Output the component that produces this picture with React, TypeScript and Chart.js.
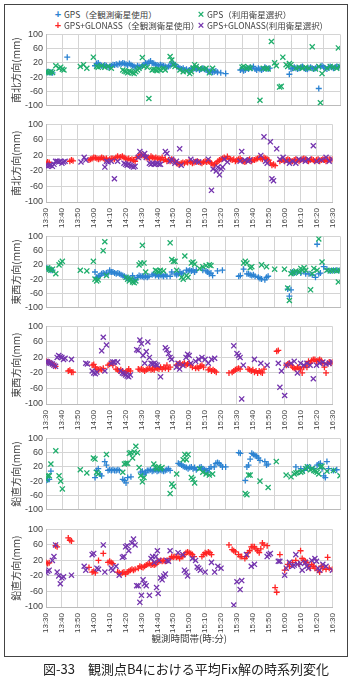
import React, { useEffect, useRef } from 'react';
import { Chart, registerables } from 'chart.js';
Chart.register(...registerables);

type Pt = [number, number];

// minutes after 13:30 → tick label
const timeLabels = ['13:30','13:40','13:50','14:00','14:10','14:20','14:30','14:40','14:50','15:00','15:10','15:20','15:30','15:40','15:50','16:00','16:10','16:20','16:30'];

const legendLabels = ['GPS（全観測衛星使用）', 'GPS（利用衛星選択）', 'GPS+GLONASS（全観測衛星使用）', 'GPS+GLONASS(利用衛星選択)'];
const axisTitles = ['南北方向(mm)', '東西方向(mm)', '鉛直方向(mm)'];
const xAxisTitle = '観測時間帯(時:分)';
const caption = '図-33　観測点B4における平均Fix解の時系列変化';

// ---- North-South ----
const gpsAllNS: Pt[] = [[0,-6],[1,-5],[2,-7],[3,-6],[4,-8],[13,36],
[30,12],[31,18],[32,20],[33,15],[34,12],[35,10],[36,14],[37,12],[38,8],[39,10],[40,12],
[41,15],[42,14],[43,16],[44,15],[45,18],[46,17],[47,20],[48,18],[49,16],[50,14],
[51,18],[52,15],[53,12],[54,10],[55,8],[56,12],[57,10],[58,8],[59,12],[60,15],[61,20],[62,18],
[63,22],[64,25],[65,20],[66,18],[67,15],[68,14],[69,12],[70,15],[71,13],[72,12],[73,10],[74,8],[75,10],[76,12],
[77,20],[78,18],[79,15],[80,10],[81,8],[82,5],[83,3],[84,5],[85,0],[86,2],[87,-2],[88,0],
[89,5],[90,3],[91,5],[92,2],[93,4],[94,0],[95,3],[96,5],[97,2],[98,0],[99,-2],[100,-5],[101,-3],[102,-6],[103,-5],[104,-3],[105,-6],[107,-8],[110,-10],
[119,0],[120,2],[121,-2],[122,0],[123,5],[124,3],[125,8],[126,5],[127,10],[128,3],[129,0],[130,5],[131,2],[132,0],[133,3],[134,8],[135,5],[136,3],[137,5],
[149,-12],[150,3],[151,5],[152,8],[153,5],[154,3],[155,5],[156,8],[157,10],[158,5],[159,3],[160,2],[161,5],[162,8],[163,5],[164,3],[165,5],[166,8],[167,-52],[168,10],[169,12],[170,8],[171,5],[172,3],[173,8],[174,10],[175,8],[176,5],[177,8],[178,10],[179,8],[180,10]];

const gpsSelNS: Pt[] = [[0,-5],[1,-6],[2,-8],[3,-4],[4,-7],[6,12],[8,5],[9,8],[10,2],[11,0],
[21,10],[23,15],[25,5],[29,36],[31,10],[32,8],[34,12],[36,8],[38,10],[40,5],
[47,0],[48,-3],[49,-5],[50,-8],[51,-3],[52,-5],[53,-8],[54,-10],[55,-5],[56,0],[57,5],
[59,35],[60,10],[62,8],[63,-80],[65,0],[66,2],[67,0],[68,-2],[69,2],[70,0],[72,5],[73,0],
[76,38],[77,28],[78,15],[79,10],[82,0],[84,-5],[86,-3],[88,-10],[89,-5],[90,5],[91,15],[92,10],
[94,5],[96,3],[98,5],[100,-8],[102,5],
[120,8],[121,10],[123,5],[124,8],[125,5],[131,-85],[133,5],[135,5],[136,3],[138,80],[140,20],[141,12],
[143,-48],[144,-46],[145,36],[147,15],[148,10],[149,18],[150,15],[153,5],[155,8],[157,5],[159,8],[161,5],[163,65],[165,3],[167,10],[168,-92],[169,-10],[172,5],[174,10],[176,8],[178,5],[179,62],[180,10]];

const glAllNS: Pt[] = [[0,0],[1,3],[2,2],[15,5],[16,8],[17,6],
[27,8],[28,10],[29,12],[30,15],[31,14],[32,12],[33,10],[34,12],[35,15],[36,13],[37,10],[38,12],[39,8],[40,10],
[41,12],[42,12],[43,10],[44,15],[45,18],[46,15],[47,16],[48,18],[49,15],[50,12],[51,10],[52,12],[53,8],[54,10],[55,8],[56,5],
[57,15],[58,18],[59,20],[60,22],[61,20],[62,18],[63,15],[64,15],[65,12],[66,18],[67,15],[68,12],
[69,15],[70,12],[71,12],[72,10],[73,15],[74,8],[75,10],[76,5],[77,8],[78,5],[79,10],[80,8],[81,5],
[82,0],[83,-2],[84,-3],[85,0],[86,2],[87,0],[88,3],[89,2],[90,5],[91,3],[92,0],[93,2],[94,4],[95,5],[96,3],[97,2],[98,0],[99,3],[100,5],[101,3],
[102,5],[103,3],[104,0],[105,-5],[106,-3],[107,0],[108,5],[109,8],[110,10],[111,12],[112,15],[113,12],[114,17],
[115,12],[116,10],[117,8],[118,10],[119,5],[120,8],[121,10],[122,12],[123,8],[124,5],[125,3],[126,5],[127,8],[128,10],[129,5],[130,8],
[131,8],[132,10],[133,12],[134,15],[135,12],[136,10],[137,15],[138,12],[139,10],[140,8],
[141,0],[142,-5],[143,-3],[144,-6],
[147,5],[148,8],[149,8],[150,5],[151,8],[152,10],[153,8],[154,5],[155,5],[156,8],[157,10],[158,8],[159,5],[160,8],[161,10],[162,12],[163,10],[164,8],[165,5],[166,8],[167,10],[168,8],[169,5],[170,8],[171,10],[172,5],[173,8],[174,10],[175,8],[176,5],[177,8],[178,10],[179,8],[180,10]];

const glSelNS: Pt[] = [[0,-5],[1,-8],[2,-6],[3,-5],[4,-8],[5,-3],[6,5],[7,5],[8,3],[9,5],[10,0],[11,3],[12,5],
[22,3],[24,15],[25,8],[37,-10],[38,5],[39,3],[41,5],[43,-40],[45,5],
[49,0],[50,-3],[51,-5],[52,-3],[53,-5],[54,-8],[55,-10],[56,-8],
[58,15],[59,30],[61,20],[62,25],[63,15],[65,0],[66,-3],[67,0],[68,-3],[69,-2],[70,0],[71,-3],[72,-3],
[75,30],[76,25],[78,5],[79,10],[81,0],[82,5],[84,37],[85,-5],[91,10],[94,5],[96,3],
[102,10],[104,-70],[105,-15],[107,-20],[108,-10],[109,-30],[110,-15],[111,-10],[112,10],[114,3],
[122,5],[123,30],[125,8],[127,5],[128,8],[135,20],[137,68],[138,5],[139,0],[141,55],[142,-40],[143,-45],[145,37],[147,10],[149,15],[151,5],[153,0],[155,5],[157,0],[159,10],[161,8],[163,5],[165,10],[168,45],[170,5],[173,8],[176,15],[178,5],[180,10]];

// ---- East-West ----
const gpsAllEW: Pt[] = [[0,12],[1,10],[2,8],[3,5],[4,5],
[30,0],[31,-15],[32,-12],[33,-10],[34,-5],[35,-3],[36,-5],[37,-3],[38,-5],
[39,5],[40,0],[41,0],[42,-3],[43,-5],[44,-3],[45,-5],[46,-8],[47,-10],[48,-12],[49,-15],[50,-18],[51,-20],[52,-18],[53,-10],
[54,-20],[55,-22],[56,-15],[57,-10],[58,-12],[59,-12],[60,-15],[61,-12],[62,-15],[63,-12],
[65,-8],[66,-5],[67,-10],[68,-8],[69,-12],[70,-8],[71,-10],[72,-12],[73,-8],[74,-12],[76,-12],[77,0],
[79,-5],[80,-8],[81,-5],[82,0],[83,-5],[84,-3],[86,5],[87,3],[88,5],[89,3],[90,5],[91,0],[92,5],
[96,5],[98,3],[99,0],[100,-5],[101,-3],[102,-10],[105,3],[108,5],
[118,-12],[119,-10],[121,8],[123,-5],[124,-5],[125,-8],[126,-10],[127,-8],[128,-12],[130,-15],[131,-18],[132,-20],[134,-22],[135,-15],[136,-12],
[148,-48],[149,-68],[150,-50],[151,0],[152,-3],[154,0],[156,-3],[159,-5],[161,-5],[163,-8],[165,-15],[166,78],[167,-5],[168,-3],[170,15],[172,8],[174,3],[176,5],[178,5],[180,5]];

const gpsSelEW: Pt[] = [[0,10],[1,12],[2,8],[3,5],[4,8],[6,-5],[8,20],[9,25],[10,30],
[21,5],[25,3],[29,30],[30,-20],[31,-25],[32,-22],[35,60],[36,85],[37,-10],
[49,-15],[50,-20],[51,-25],[52,-20],[53,-28],[54,-30],[55,-25],
[57,20],[58,25],[59,75],[60,25],[61,0],
[67,5],[68,3],[69,0],[70,5],[72,3],
[76,82],[77,35],[78,30],[79,30],[80,5],
[83,-15],[84,-20],[85,45],[86,-10],[87,-15],[89,25],[90,28],[91,22],
[94,10],[96,15],[98,18],[100,20],[101,18],
[121,25],[122,30],[123,25],[125,12],[126,15],[132,20],[135,15],[140,8],[146,8],[148,-45],[149,-80],[150,-5],
[151,0],[152,-3],[153,3],[155,0],[156,10],[157,5],[158,12],[159,5],[162,-50],[163,-5],[164,10],[166,5],[167,93],[169,28],[172,5],[174,3],[176,5],[178,3],[179,-28],[180,5]];

const glAllEW: Pt[] = [[0,10],[1,8],[2,8],[3,5],[4,3],[5,0],[6,-3],
[14,-15],[15,-13],[16,-18],[17,-18],
[29,0],[30,2],[31,-5],[32,-10],[33,-12],[34,-10],[35,-12],[36,-8],
[39,0],[40,3],[41,5],[42,0],
[44,-10],[45,-12],[46,-15],[47,-12],[48,-15],[49,-20],[50,-18],[51,-15],[52,-10],[53,-15],
[58,-10],[59,-12],[60,-10],[61,-12],[62,-15],[63,-12],[64,-10],[65,-8],[66,-12],[67,-10],[68,-12],[69,-5],[70,-8],[71,-10],[72,-5],
[73,-10],[74,-5],[75,-8],[76,0],[77,-10],[78,-5],
[82,0],[83,3],[84,5],[85,0],[86,3],[87,5],[88,0],[89,3],[90,5],[91,0],[92,-5],
[94,-8],[95,-5],[96,-8],[97,-3],[98,0],[99,-5],
[102,-12],[103,-10],[104,-15],[105,-12],[106,-15],[107,-18],
[115,-20],[117,-18],[118,-15],[119,-12],[120,-10],[121,-8],[122,-10],
[127,-10],[128,-12],[129,-15],[130,-12],[131,-18],[132,-15],[133,-20],[134,-15],[135,-18],[136,-20],[137,-10],
[145,36],[146,38],
[151,0],[152,3],[153,5],[154,0],
[155,-5],[156,-8],[157,-10],[158,-5],[159,-8],[160,-10],[161,-20],[162,-5],[163,0],[164,-5],
[165,10],[166,5],[167,12],[168,15],[169,15],[170,10],[171,12],[172,15],[173,12],[174,5],[175,-5],[176,-20],[177,5],[178,8],[179,5],[180,8]];

const glSelEW: Pt[] = [[0,10],[1,8],[2,6],[3,5],[4,3],[5,0],[6,-3],[7,20],[8,25],[9,22],[10,20],[11,15],[12,18],
[16,15],[25,5],[26,3],[29,-15],[30,-20],[31,-22],[32,-18],[35,37],[36,72],[37,-15],[38,52],
[41,5],[42,8],[43,8],[45,8],
[47,-15],[48,-20],[49,-22],[50,-25],[51,-28],[52,-30],[53,-25],
[57,40],[58,38],[59,65],[60,55],[61,25],[62,5],[63,35],[64,60],[65,20],
[66,5],[67,3],[68,5],[69,2],[70,0],[72,-30],
[75,45],[76,40],[77,30],[78,20],[79,15],
[82,-5],[83,5],[84,-10],[86,0],[88,20],[89,28],[90,25],[91,5],
[94,10],[96,15],[98,20],[100,15],[102,5],[104,15],[106,18],
[118,50],[120,30],[121,25],[122,20],[123,-87],[124,0],[131,15],[135,5],[139,0],[146,5],[147,-57],[148,-15],[150,-78],[151,0],[154,5],[156,10],[158,-20],[160,5],[162,0],[164,5],[166,0],[168,-35],[170,0],[172,5],[174,8],[176,3],[178,5],[180,8]];

// ---- Vertical ----
const gpsAllUD: Pt[] = [[0,-18],[1,-16],[2,-15],[3,8],
[30,-10],[31,10],[32,15],[33,0],[34,-5],[36,35],[37,25],
[38,10],[39,12],[40,10],[41,12],[42,10],[43,10],[44,12],[45,10],
[47,-15],[48,-18],[49,-25],[50,-10],[52,-8],
[58,5],[59,8],[60,0],[61,5],[62,10],[63,10],[64,12],[65,8],[66,10],[67,12],[68,8],[69,10],[70,12],[71,10],[72,8],[73,10],[74,12],[75,15],[76,10],
[81,30],[82,28],[83,25],[84,22],[85,20],[86,18],[87,15],[88,18],[89,20],[90,15],[91,18],[92,12],
[94,18],[95,20],[96,15],[97,12],[98,10],[99,5],[100,15],[101,20],
[103,20],[104,30],[105,32],[106,30],[107,25],[108,20],[110,20],
[118,60],[119,58],[122,-18],[123,20],[124,25],[125,42],[126,58],[127,55],[128,52],[129,50],[130,45],[131,38],
[134,35],[135,25],[136,28],
[153,20],[156,15],[158,10],[160,20],[162,18],[164,15],[166,25],[167,28],[168,30],[169,15],[170,-5],[171,-10],[172,35],[173,15],[176,10],[178,12]];

const gpsSelUD: Pt[] = [[0,-15],[1,-5],[2,-5],[3,28],[6,65],[8,-5],[9,-20],[10,-42],
[21,12],[25,3],[29,45],[30,42],[31,5],[32,0],[37,55],
[47,5],[48,28],[49,30],[50,30],[51,58],[52,60],[53,45],[54,62],[55,78],[56,60],[57,18],[58,-5],[59,-22],[60,-10],
[66,28],[67,18],[68,15],[69,20],[70,15],[71,18],
[76,-55],[77,-28],[78,-35],[80,0],
[84,40],[85,55],[86,40],[87,55],[89,-10],[90,-15],[91,-25],
[94,15],[96,5],[98,0],[100,-3],[102,0],
[122,-55],[123,-58],[124,-3],[125,-3],[131,-20],[136,-38],[141,35],[147,-3],[150,-8],[152,0],[153,3],[154,5],
[156,5],[157,8],[159,15],[160,20],[162,12],[163,15],[164,10],[165,8],[166,5],[167,0],[168,20],[169,22],[172,8],[176,10],[180,-5]];

const glAllUD: Pt[] = [[0,15],[1,12],[2,14],[6,58],[7,55],[14,78],[15,72],[16,70],
[27,2],[29,-10],[30,-8],[31,-12],[33,20],[36,38],
[39,15],[40,18],[41,15],[42,12],
[45,-10],[46,-12],[47,-15],[48,-12],[49,-10],[50,-15],[51,-10],[52,-8],
[53,-5],[54,-3],[55,-5],[56,-3],
[58,0],[59,5],[60,3],[61,2],[62,5],[63,8],[64,10],[65,12],[66,8],[67,10],[68,8],[69,10],
[70,15],[71,18],[72,20],[73,18],[74,20],[75,18],[76,20],
[78,25],[79,30],[80,28],[81,30],[82,28],[83,30],[84,25],[85,30],
[86,30],[87,35],[88,40],[89,42],[90,40],[91,38],[92,35],[93,30],
[98,30],[99,35],[100,40],[101,38],[102,42],[103,40],[104,35],
[115,60],[117,48],[118,45],[119,42],[121,35],[122,30],[123,30],
[125,25],[126,30],[127,40],[128,45],[129,55],[130,55],[131,55],
[132,50],[133,45],[134,40],[135,50],[136,65],[137,60],[139,58],
[144,-50],[145,-62],[147,35],[150,-5],
[152,10],[153,5],[155,15],[157,20],[159,10],[160,45],[161,25],[162,20],[163,18],[164,15],[165,5],[166,0],[167,10],[168,5],[169,0],
[171,-5],[172,-10],[173,5],[174,0],[176,-3],[177,28],[178,0],[180,-3]];

const glSelUD: Pt[] = [[0,-12],[1,-8],[2,-5],[4,20],[5,30],[6,60],[7,-10],[8,-20],[9,-40],[10,-25],[11,-22],[16,-18],
[24,5],[25,-5],[29,35],[30,38],[32,0],[33,-3],[36,60],[37,-10],
[41,0],[42,-5],[44,5],[46,-18],[48,28],[49,30],[50,55],[51,58],[52,45],[54,65],[55,75],[56,60],
[57,-45],[58,-45],[59,-88],[60,-70],[61,-30],[62,-40],[63,-45],[65,-70],[66,25],[67,30],
[68,15],[69,30],[70,45],[71,20],[69.5,-50],[70.5,-65],[72,-25],[73,-30],[74,-20],[75,-15],
[76,20],[77,18],[78,45],[83,40],[86,35],[87,-5],[88,-10],[89,-20],[92,25],[94,20],[95,3],[96,0],[97,-5],[100,-10],
[104,15],[106,-10],[108,5],[110,0],
[118,-95],[120,-35],[122,-55],[123,-32],[126,35],[129,5],[131,10],[139,30],[140,35],[141,38],[146,18],[147,18],[150,-18],
[151,0],[153,15],[155,5],[156,8],[157,35],[158,10],[160,12],[161,-5],[163,15],[164,5],[165,0],[167,20],[169,25],[170,18],[171,0],[172,-5],[174,10],[176,5],[180,-5]];

const BLUE = '#2C83D2';
const GREEN = '#1FAE6C';
const RED = '#FF2424';
const PURPLE = '#7434AE';

interface PanelDef {
  plotTop: number;
  title: string;
  all: Pt[];
  sel: Pt[];
  allColor: string;
  selColor: string;
  xLabels: boolean;
  xTitle?: string;
}

const panels: PanelDef[] = [
  { plotTop: 34, title: axisTitles[0], all: gpsAllNS, sel: gpsSelNS, allColor: BLUE, selColor: GREEN, xLabels: false },
  { plotTop: 124, title: axisTitles[0], all: glAllNS, sel: glSelNS, allColor: RED, selColor: PURPLE, xLabels: true },
  { plotTop: 236, title: axisTitles[1], all: gpsAllEW, sel: gpsSelEW, allColor: BLUE, selColor: GREEN, xLabels: false },
  { plotTop: 326, title: axisTitles[1], all: glAllEW, sel: glSelEW, allColor: RED, selColor: PURPLE, xLabels: true },
  { plotTop: 438, title: axisTitles[2], all: gpsAllUD, sel: gpsSelUD, allColor: BLUE, selColor: GREEN, xLabels: false },
  { plotTop: 529, title: axisTitles[2], all: glAllUD, sel: glSelUD, allColor: RED, selColor: PURPLE, xLabels: true, xTitle: xAxisTitle },
];

const PLOT_H = 78;
const PAD_TOP = 8;
const PAD_BOTTOM = 2;
const CANVAS_LEFT = 5;
const CANVAS_W = 343;

function xAxisHeight(p: PanelDef) {
  if (!p.xLabels) return 0;
  return p.xTitle ? 44 : 30;
}

function canvasHeight(p: PanelDef) {
  return PAD_TOP + PLOT_H + xAxisHeight(p) + PAD_BOTTOM;
}

const textColor = '#404040';
const gridColor = '#D4D4D4';

function Panel({ def }: { def: PanelDef }) {
  const ref = useRef<HTMLCanvasElement | null>(null);
  useEffect(() => {
    if (!ref.current) return;
    const xH = xAxisHeight(def);
    const chart = new Chart(ref.current, {
      type: 'scatter',
      data: {
        datasets: [
          {
            data: def.sel.map(([x, y]) => ({ x, y })),
            pointStyle: 'crossRot',
            pointRadius: 3.6,
            pointBorderWidth: 1.3,
            borderColor: def.selColor,
            backgroundColor: def.selColor,
            showLine: false,
          },
          {
            data: def.all.map(([x, y]) => ({ x, y })),
            pointStyle: 'cross',
            pointRadius: 3,
            pointBorderWidth: 1.3,
            borderColor: def.allColor,
            backgroundColor: def.allColor,
            showLine: false,
          },
        ],
      },
      options: {
        animation: false,
        responsive: false,
        maintainAspectRatio: false,
        events: [],
        layout: { padding: { top: PAD_TOP, right: 8, bottom: PAD_BOTTOM, left: 0 } },
        plugins: { legend: { display: false }, tooltip: { enabled: false } },
        scales: {
          x: {
            type: 'linear',
            min: 0,
            max: 180,
            ticks: {
              display: def.xLabels,
              stepSize: 10,
              autoSkip: false,
              minRotation: 90,
              maxRotation: 90,
              padding: 6,
              color: textColor,
              font: { family: 'Liberation Sans', size: 8 },
              callback: (v: any) => timeLabels[Math.round(Number(v) / 10)] ?? '',
            },
            grid: { color: gridColor, drawTicks: false, lineWidth: 1 },
            border: { display: true, color: '#BBBBBB' },
            title: {
              display: !!def.xTitle,
              text: def.xTitle || '',
              color: textColor,
              font: { family: 'Noto Sans CJK JP', size: 9.5 },
              padding: { top: 0, bottom: 7 },
            },
            afterFit: (s: any) => { s.height = xH; },
          },
          y: {
            min: -100,
            max: 100,
            ticks: {
              stepSize: 20,
              padding: 3,
              color: textColor,
              font: { family: 'Liberation Sans', size: 9 },
            },
            grid: { color: gridColor, drawTicks: false, lineWidth: 1 },
            border: { display: true, color: '#BBBBBB' },
            title: {
              display: true,
              text: def.title,
              color: textColor,
              font: { family: 'Noto Sans CJK JP', size: 10, lineHeight: 1.2 },
              padding: { top: 5.5, bottom: 0 },
            },
            afterFit: (s: any) => { s.width = 41; },
          },
        },
      },
    } as any);
    return () => chart.destroy();
  }, [def]);
  const h = canvasHeight(def);
  return (
    <canvas
      ref={ref}
      width={CANVAS_W}
      height={h}
      style={{ position: 'absolute', left: CANVAS_LEFT, top: def.plotTop - PAD_TOP, width: CANVAS_W, height: h }}
    />
  );
}

function LegendItem({ x, y, mark, color, label }: { x: number; y: number; mark: string; color: string; label: string }) {
  return (
    <div style={{ position: 'absolute', left: x, top: y, whiteSpace: 'nowrap', fontFamily: 'Noto Sans CJK JP', fontSize: 8.5, lineHeight: '11px', color: textColor }}>
      <span style={{ color, fontFamily: 'Liberation Sans', fontSize: 11, fontWeight: 'bold', display: 'inline-block', width: 8, textAlign: 'center', marginRight: 2 }}>{mark}</span>
      {label}
    </div>
  );
}

export default function App() {
  return (
    <div style={{ position: 'absolute', left: 0, top: 0, width: 352, height: 678, background: '#fff' }}>
      <div style={{ position: 'absolute', left: 4, top: 4, width: 344, height: 653, border: '1px solid #444', boxSizing: 'border-box' }} />
      {panels.map((p, i) => <Panel key={i} def={p} />)}
      <LegendItem x={54} y={9} mark="+" color={BLUE} label={legendLabels[0]} />
      <LegendItem x={197} y={9} mark="×" color={GREEN} label={legendLabels[1]} />
      <LegendItem x={54} y={20} mark="+" color={RED} label={legendLabels[2]} />
      <LegendItem x={197} y={20} mark="×" color={PURPLE} label={legendLabels[3]} />
      <div style={{ position: 'absolute', left: 43, top: 661, whiteSpace: 'nowrap', fontFamily: 'Noto Sans CJK JP', fontSize: 13, lineHeight: '16px', color: '#222' }}>
        {caption}
      </div>
    </div>
  );
}
